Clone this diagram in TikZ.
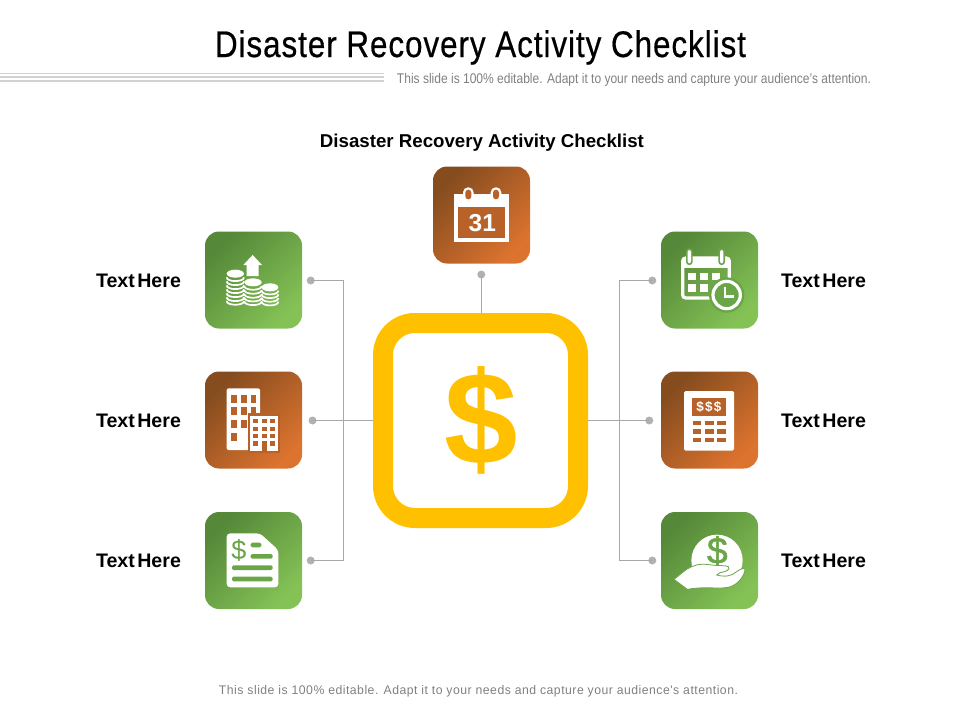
\documentclass[tikz,border=0pt]{standalone}
\usepackage{fontspec}
\usepackage{graphicx}
\setmainfont{Liberation Sans}
\newfontfamily\spacedfont[LetterSpace=4]{Liberation Sans}
\newfontfamily\titlefont[LetterSpace=3,FakeBold=0.6]{Liberation Sans}
\newfontfamily\heavyfont[FakeBold=1.5]{Liberation Sans}
\definecolor{gdark}{HTML}{558838}
\definecolor{glight}{HTML}{84C256}
\definecolor{gmid}{HTML}{6AA548}
\definecolor{bdark}{HTML}{854C1E}
\definecolor{blight}{HTML}{DC732F}
\definecolor{bmid}{HTML}{B8622A}
\definecolor{gold}{HTML}{FFC000}
\definecolor{connc}{HTML}{A8A8A8}
\definecolor{dotc}{HTML}{B0B0B6}
\definecolor{rulec}{HTML}{D2D2D2}
\definecolor{subc}{HTML}{808080}
\tikzset{
  cardbase/.style={minimum size=97pt,inner sep=0pt,outer sep=0pt,rounded corners=14pt},
  greencard/.style={cardbase,left color=gdark,right color=glight,shading angle=45},
  browncard/.style={cardbase,left color=bdark,right color=blight,shading angle=45},
  conn/.style={draw=connc,line width=0.9pt},
  dotn/.style={circle,fill=dotc,minimum size=8pt,inner sep=0pt,outer sep=0pt},
  label/.style={font=\bfseries\fontsize{19.6}{20}\selectfont,inner sep=0pt,anchor=base},
  rulel/.style={draw=rulec,line width=1.3pt},
  zoomed/.style 2 args={shift={(#1,#2)},x=0.33333pt,y=-0.33333pt},
}
\newcommand{\coinstack}[4]{% cx, top y, rx, bottom y
  \fill[white] (#1,#2) ellipse ({#3} and 12);
  \foreach \yy in {#4}{
    \draw[white,line width=1.7pt] ({#1-#3},\yy) .. controls ({#1-#3},\yy+15) and ({#1+#3},\yy+15) .. ({#1+#3},\yy);
  }
}
\begin{document}
\begin{tikzpicture}[x=1pt,y=-1pt]
\useasboundingbox (0,0) rectangle (960,720);
% header
\node[inner sep=0pt,anchor=base] (title) at (480.5,57) {\resizebox{531pt}{\height}{\titlefont\fontsize{37}{40}\selectfont Disaster Recovery Activity Checklist}};
\coordinate (ra) at (0,73.3); \coordinate (rb) at (384,73.3);
\coordinate (rc) at (0,77.3); \coordinate (rd) at (384,77.3);
\coordinate (re) at (0,81); \coordinate (rf) at (384,81);
\draw[rulel] (ra) -- (rb);
\draw[rulel,line width=1.8pt] (rc) -- (rd);
\draw[rulel,line width=1.8pt] (re) -- (rf);
\node[inner sep=0pt,anchor=base,text=subc] (hint) at (634,83) {\resizebox{474pt}{\height}{\fontsize{14}{16}\selectfont This slide is 100\% editable. Adapt it to your needs and capture your audience's attention.}};
\node[inner sep=0pt,anchor=base,font=\bfseries\fontsize{18.6}{20}\selectfont] (heading) at (482,147) {\resizebox{324pt}{\height}{Disaster Recovery Activity Checklist}};
\node[inner sep=0pt,anchor=base,text=subc] (foot) at (478.5,694) {\resizebox{519pt}{\height}{\spacedfont\fontsize{12.5}{14}\selectfont This slide is 100\% editable. Adapt it to your needs and capture your audience's attention.}};
% centre
\node[draw=gold,line width=20pt,rounded corners=32pt,minimum size=195pt,inner sep=0pt] (hub) at (480.5,420.5) {};
\node[inner sep=0pt,text=gold,font=\bfseries\fontsize{132}{132}\selectfont] (hubdollar) at (481.5,420) {\$};
% cards
\node[greencard] (c1) at (253.5,280) {};
\node[browncard] (c2) at (253.5,420) {};
\node[greencard] (c3) at (253.5,560.5) {};
\node[browncard] (c4) at (481.5,215) {};
\node[greencard] (c5) at (709.5,280) {};
\node[browncard] (c6) at (709.5,420) {};
\node[greencard] (c7) at (709.5,560.5) {};
% connectors
\node[dotn] (d1) at (310.7,280.5) {};
\node[dotn] (d2) at (312.5,420.5) {};
\node[dotn] (d3) at (310.7,560.5) {};
\node[dotn] (d4) at (481.3,274.5) {};
\node[dotn] (d5) at (652.3,280.5) {};
\node[dotn] (d6) at (649.3,420.5) {};
\node[dotn] (d7) at (652.3,560.5) {};
\coordinate (j1) at (343.5,280.5);
\coordinate (j3) at (343.5,560.5);
\coordinate (j5) at (619.5,280.5);
\coordinate (j7) at (619.5,560.5);
\draw[conn] (d1.center) -- (j1) -- (j3) -- (d3.center);
\draw[conn] (d5.center) -- (j5) -- (j7) -- (d7.center);
\draw[conn] (d2.center) -- (hub.west);
\draw[conn] (d6.center) -- (hub.east);
\draw[conn] (d4.center) -- (d4 |- hub.north);
% labels
\node[label] (t1) at (138.5,287) {Text\hspace{-3pt} Here};
\node[label] (t2) at (138.5,427) {Text\hspace{-3pt} Here};
\node[label] (t3) at (138.5,567) {Text\hspace{-3pt} Here};
\node[label] (t5) at (823.5,287) {Text\hspace{-3pt} Here};
\node[label] (t6) at (823.5,427) {Text\hspace{-3pt} Here};
\node[label] (t7) at (823.5,567) {Text\hspace{-3pt} Here};
% icon: coins and arrow
\begin{scope}[zoomed={190}{220}]
  \fill[white] (188,105) -- (216,135) -- (206,135) -- (206,168) -- (170,168) -- (170,135) -- (160,135) -- cycle;
  \coinstack{136}{161}{26}{172,184,196,208,220,232,243}
  \coinstack{189}{187}{26}{198,210,222,233,244}
  \coinstack{240}{202}{25}{212,223,234,245}
\end{scope}
% icon: buildings
\begin{scope}[zoomed={190}{220}]
  \fill[white,rounded corners=2pt] (110,505) rectangle (210,690);
  \foreach \xx in {123,153,182}{\foreach \yy in {525,562,600}{\fill[bmid] (\xx,\yy) rectangle (\xx+17,\yy+23);}}
  \fill[bmid] (123,640) rectangle (140,662);
  \fill[bmid] (174,580) rectangle (270,700);
  \fill[white] (180,588) rectangle (265,692);
  \foreach \xx in {190,215,240}{\foreach \yy in {598,620,642}{\fill[bmid] (\xx,\yy) rectangle (\xx+15,\yy+12);}}
  \fill[bmid] (190,664) rectangle (205,678);
  \fill[bmid] (215,664) rectangle (230,692);
  \fill[bmid] (240,664) rectangle (255,678);
\end{scope}
% icon: calendar 31
\begin{scope}[zoomed={420}{160}]
  \fill[white] (103,103) rectangle (267,245);
  \fill[bmid] (115,142) rectangle (255,233);
  \foreach \xx in {145,228}{
    \fill[white,rounded corners=5pt] (\xx-16,82) rectangle (\xx+16,125);
    \fill[bmid,rounded corners=3pt] (\xx-9,89) rectangle (\xx+9,118);
  }
  \node[inner sep=0pt,text=white,font=\bfseries\fontsize{24.5}{26}\selectfont] (n31) at (187,190) {31};
\end{scope}
% icon: calendar and clock
\begin{scope}[zoomed={600}{220}]
  \draw[white,line width=3.2pt,rounded corners=3pt] (248,114) rectangle (388,234);
  \fill[white] (248,114) rectangle (388,145);
  \foreach \xx in {268,365}{
    \fill[gmid,rounded corners=3pt] (\xx-10,85) rectangle (\xx+10,135);
    \fill[white,rounded corners=2pt] (\xx-5,90) rectangle (\xx+5,130);
  }
  \foreach \xx/\yy in {265/158,300/158,335/158,265/192,300/192}{\fill[white] (\xx,\yy) rectangle (\xx+24,\yy+23);}
  \fill[gmid] (380,225) circle (53);
  \draw[white,line width=3.2pt] (380,225) circle (41);
  \draw[white,line width=2.8pt] (375,200) -- (375,230) -- (402,230);
\end{scope}
% icon: calculator
\begin{scope}[zoomed={600}{220}]
  \fill[white,rounded corners=1.5pt] (252,513) rectangle (402,692);
  \fill[bmid] (275,533) rectangle (378,588);
  \node[inner sep=0pt,text=white,font=\bfseries\fontsize{13.5}{14}\selectfont] (n3d) at (326.5,561) {\$\hspace{1.2pt}\$\hspace{1.2pt}\$};
  \foreach \xx in {278,315,352}{\foreach \yy in {602,628,654}{\fill[bmid] (\xx,\yy) rectangle (\xx+26,\yy+13);}}
\end{scope}
% icon: document
\begin{scope}[zoomed={190}{500}]
  \fill[white,rounded corners=3.5pt] (110,100) -- (210,100) -- (265,150) -- (265,262) -- (110,262) -- cycle;
  \node[inner sep=0pt,text=gmid,font=\fontsize{27}{28}\selectfont] (ndoc) at (147,151) {\$};
  \fill[gmid,rounded corners=1.5pt] (182,128) rectangle (214,142);
  \fill[gmid,rounded corners=1.5pt] (182,162) rectangle (248,176);
  \fill[gmid,rounded corners=1.5pt] (126,196) rectangle (248,210);
  \fill[gmid,rounded corners=1.5pt] (126,230) rectangle (248,244);
\end{scope}
% icon: hand and coin
\begin{scope}[zoomed={600}{500}]
  \fill[white] (351,181) circle (77);
  \node[inner sep=0pt,text=gmid,font=\heavyfont\fontsize{37}{38}\selectfont] (nhand) at (352,153) {\$};
  \filldraw[fill=white,draw=gmid,line width=0.8pt] (222,238) .. controls (240,225) and (255,208) .. (275,200) .. controls (295,190) and (315,192) .. (335,195) .. controls (355,198) and (375,195) .. (385,200) .. controls (392,208) and (380,215) .. (360,218) -- (350,225) .. controls (375,232) and (395,228) .. (410,215) .. controls (420,208) and (430,203) .. (435,207) .. controls (435,225) and (415,255) .. (385,262) .. controls (350,268) and (320,258) .. (262,268) -- cycle;
\end{scope}
\end{tikzpicture}
\end{document}
